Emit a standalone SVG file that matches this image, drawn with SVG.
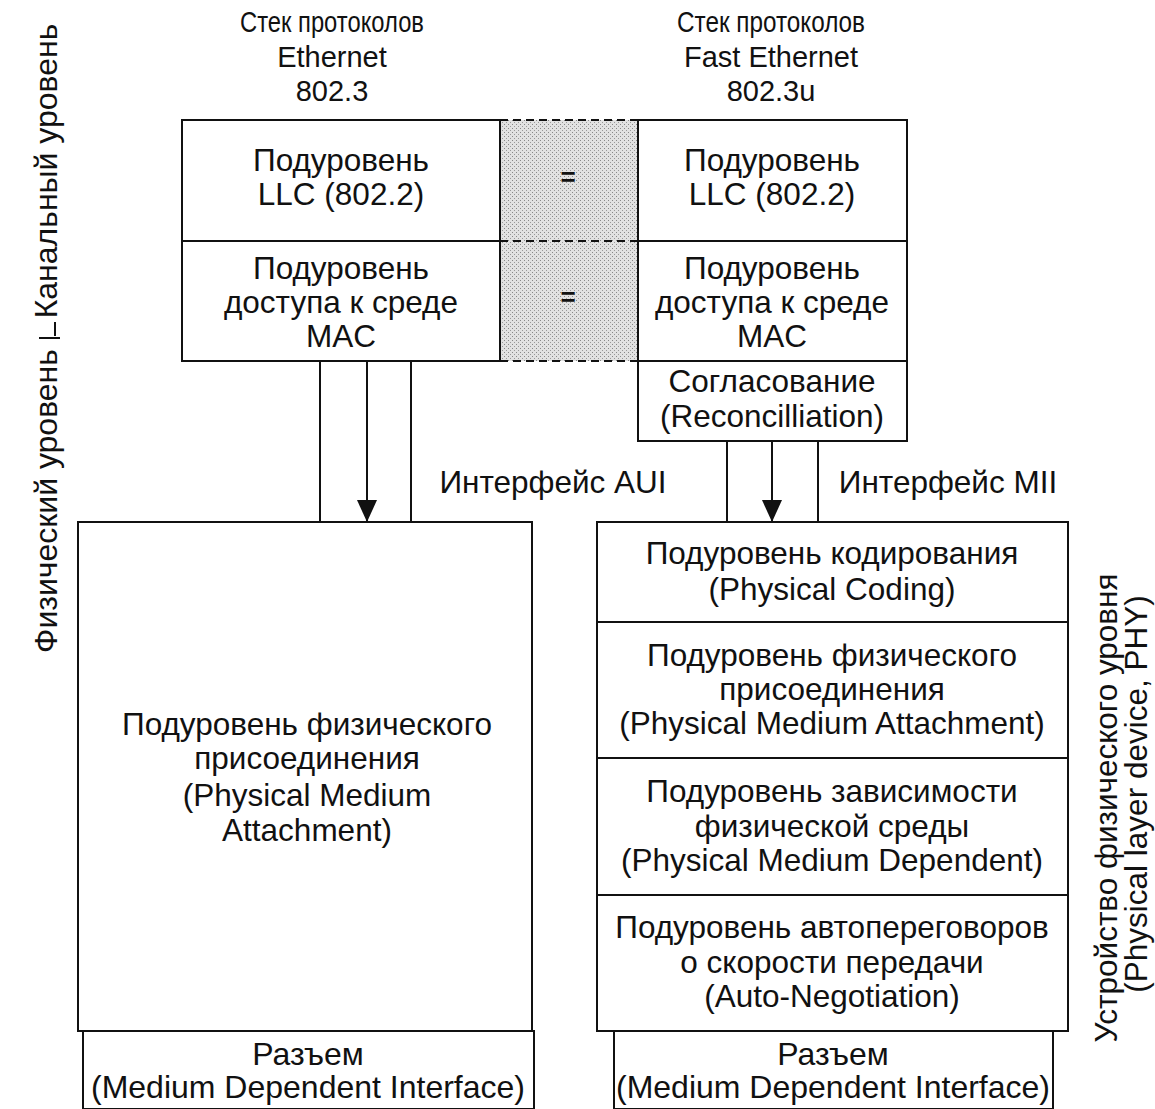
<svg xmlns="http://www.w3.org/2000/svg" width="1155" height="1109" viewBox="0 0 1155 1109">
<style>
  text { font-family: "Liberation Sans", Arial, sans-serif; font-size: 31.5px; fill: #111; text-anchor: middle; }
  .hd { font-size: 29px; }
  .mdi { font-size: 32px; }
  .side { font-size: 32px; }
  .box { fill: #fff; stroke: #111; stroke-width: 2; }
  .ln { stroke: #111; stroke-width: 2; fill: none; }
  .dash { stroke: #111; stroke-width: 2; stroke-dasharray: 8 5; fill: none; }
  .eq { font-size: 26px; font-weight: bold; }
</style>
<defs>
  <pattern id="dots" width="4" height="4" patternUnits="userSpaceOnUse">
    <rect width="4" height="4" fill="#e2e2e2"/>
    <rect x="0" y="0" width="1" height="1" fill="#888"/>
    <rect x="2" y="2" width="1" height="1" fill="#999"/>
  </pattern>
  <marker id="arr" markerWidth="22" markerHeight="20" refX="22" refY="10" orient="auto" markerUnits="userSpaceOnUse" viewBox="0 0 22 20">
    <path d="M0,0 L22,10 L0,20 Z" fill="#111"/>
  </marker>
</defs>
<rect width="1155" height="1109" fill="#fff"/>

<g id="side-labels">
  <text class="side" transform="translate(57,171) rotate(-90)">Канальный уровень</text>
  <text class="side" transform="translate(57,501) rotate(-90)">Физический уровень</text>
  <line class="ln" x1="55" y1="322" x2="55" y2="336"/>
  <line class="ln" x1="39" y1="338" x2="60" y2="338"/>
  <text transform="translate(1117,808) rotate(-90)">Устройство физического уровня</text>
  <text transform="translate(1147,794) rotate(-90)">(Physical layer device, PHY)</text>
</g>

<g id="heading-left">
  <text class="hd" x="332" y="32" textLength="184" lengthAdjust="spacingAndGlyphs">Стек протоколов</text>
  <text class="hd" x="332" y="67">Ethernet</text>
  <text class="hd" x="332" y="101">802.3</text>
</g>
<g id="heading-right">
  <text class="hd" x="771" y="32" textLength="188" lengthAdjust="spacingAndGlyphs">Стек протоколов</text>
  <text class="hd" x="771" y="67">Fast Ethernet</text>
  <text class="hd" x="771" y="101">802.3u</text>
</g>

<g id="equal-band">
  <rect x="500" y="120" width="138" height="241" fill="url(#dots)"/>
  <line class="dash" x1="500" y1="120" x2="638" y2="120"/>
  <line class="dash" x1="500" y1="241" x2="638" y2="241"/>
  <line class="dash" x1="500" y1="361" x2="638" y2="361"/>
  <text class="eq" x="568" y="186">=</text>
  <text class="eq" x="568" y="306">=</text>
</g>

<g id="left-llc">
  <rect class="box" x="182" y="120" width="318" height="121"/>
  <text x="341" y="171">Подуровень</text>
  <text x="341" y="205">LLC (802.2)</text>
</g>
<g id="left-mac">
  <rect class="box" x="182" y="241" width="318" height="120"/>
  <text x="341" y="279">Подуровень</text>
  <text x="341" y="313">доступа к среде</text>
  <text x="341" y="347">MAC</text>
</g>

<g id="right-llc">
  <rect class="box" x="638" y="120" width="269" height="121"/>
  <text x="772" y="171">Подуровень</text>
  <text x="772" y="205">LLC (802.2)</text>
</g>
<g id="right-mac">
  <rect class="box" x="638" y="241" width="269" height="120"/>
  <text x="772" y="279">Подуровень</text>
  <text x="772" y="313">доступа к среде</text>
  <text x="772" y="347">MAC</text>
</g>
<g id="reconciliation">
  <rect class="box" x="638" y="361" width="269" height="80"/>
  <text x="772" y="392">Согласование</text>
  <text x="772" y="427">(Reconcilliation)</text>
</g>

<g id="connectors">
  <line class="ln" x1="320" y1="361" x2="320" y2="522"/>
  <line class="ln" x1="367" y1="361" x2="367" y2="522" marker-end="url(#arr)"/>
  <line class="ln" x1="411" y1="361" x2="411" y2="522"/>
  <line class="ln" x1="727" y1="441" x2="727" y2="522"/>
  <line class="ln" x1="772" y1="441" x2="772" y2="522" marker-end="url(#arr)"/>
  <line class="ln" x1="818" y1="441" x2="818" y2="522"/>
</g>

<g id="aui-label"><text x="553" y="493">Интерфейс AUI</text></g>
<g id="mii-label"><text x="948" y="493">Интерфейс MII</text></g>

<g id="left-pma">
  <rect class="box" x="78" y="522" width="454" height="509"/>
  <text x="307" y="735">Подуровень физического</text>
  <text x="307" y="769">присоединения</text>
  <text x="307" y="806">(Physical Medium</text>
  <text x="307" y="841">Attachment)</text>
</g>
<g id="left-mdi">
  <rect class="box" x="83" y="1031" width="451" height="78"/>
  <text class="mdi" x="308" y="1065">Разъем</text>
  <text class="mdi" x="308" y="1098">(Medium Dependent Interface)</text>
</g>

<g id="right-pcs">
  <rect class="box" x="597" y="522" width="471" height="100"/>
  <text x="832" y="564">Подуровень кодирования</text>
  <text x="832" y="600">(Physical Coding)</text>
</g>
<g id="right-pma">
  <rect class="box" x="597" y="622" width="471" height="136"/>
  <text x="832" y="666">Подуровень физического</text>
  <text x="832" y="700">присоединения</text>
  <text x="832" y="734">(Physical Medium Attachment)</text>
</g>
<g id="right-pmd">
  <rect class="box" x="597" y="758" width="471" height="137"/>
  <text x="832" y="802">Подуровень зависимости</text>
  <text x="832" y="837">физической среды</text>
  <text x="832" y="871">(Physical Medium Dependent)</text>
</g>
<g id="right-an">
  <rect class="box" x="597" y="895" width="471" height="136"/>
  <text x="832" y="938">Подуровень автопереговоров</text>
  <text x="832" y="973">о скорости передачи</text>
  <text x="832" y="1007">(Auto-Negotiation)</text>
</g>
<g id="right-mdi">
  <rect class="box" x="614" y="1031" width="439" height="78"/>
  <text class="mdi" x="833" y="1065">Разъем</text>
  <text class="mdi" x="833" y="1098">(Medium Dependent Interface)</text>
</g>
</svg>
